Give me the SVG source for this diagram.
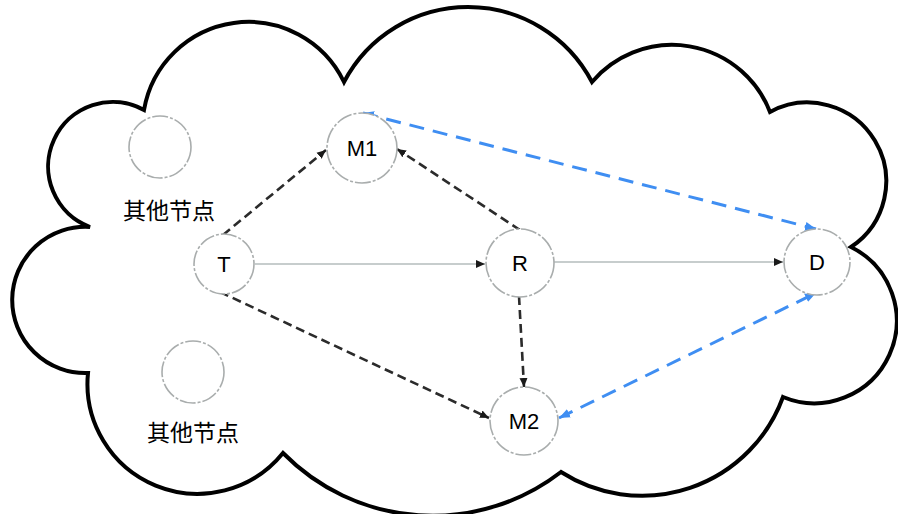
<svg xmlns="http://www.w3.org/2000/svg" width="898" height="514" viewBox="0 0 898 514">
<style>
.cloud{fill:#fff;stroke:#000;stroke-width:4;stroke-linejoin:miter}
.node{fill:#fff;stroke:#a9adad;stroke-width:1.6;stroke-dasharray:16 2 3 2}
.lbl{font-family:"Liberation Sans","Noto Sans CJK SC",sans-serif;font-size:22px;fill:#000;text-anchor:middle}
.cn{font-family:"Noto Sans CJK SC","Liberation Sans",sans-serif;font-size:23px;fill:#000;text-anchor:middle}
.dk{fill:none;stroke:#2b2b2b;stroke-width:2.6;stroke-dasharray:9 5}
.sol{fill:none;stroke:#b4bcbc;stroke-width:1.6}
.bl{fill:none;stroke:#3f8ef2;stroke-width:3;stroke-dasharray:15 9}
</style>
<defs>
<marker id="ak" markerUnits="userSpaceOnUse" markerWidth="10" markerHeight="10" refX="9" refY="5" orient="auto"><path d="M0,1 L9,5 L0,9 z" fill="#1a1a1a"/></marker>
<marker id="ab" markerUnits="userSpaceOnUse" markerWidth="12" markerHeight="12" refX="11" refY="6" orient="auto-start-reverse"><path d="M0,1.5 L11,6 L0,10.5 z" fill="#3f8ef2"/></marker>
</defs>
<path class="cloud" d="M344,82 A140,140 0 0 1 592,82 A105,105 0 0 1 770,112 A78.8,78.8 0 0 1 851,247 A82.4,82.4 0 0 1 783,397 A150,150 0 0 1 561,472 A210,210 0 0 1 283,453 A110,110 0 0 1 88,373 A73.1,73.1 0 1 1 90,227 A64.6,64.6 0 1 1 144,110 A106,106 0 0 1 344,82 Z"/>
<g id="connectors">
<line class="sol" x1="255" y1="264" x2="485" y2="264" marker-end="url(#ak)"/>
<line class="sol" x1="554" y1="262" x2="783" y2="262" marker-end="url(#ak)"/>
<line class="dk" x1="223" y1="235" x2="326" y2="150" marker-end="url(#ak)"/>
<line class="dk" x1="220" y1="292" x2="489" y2="418" marker-end="url(#ak)"/>
<line class="dk" x1="520" y1="230" x2="397" y2="149" marker-end="url(#ak)"/>
<line class="dk" x1="519" y1="296" x2="524" y2="387" marker-end="url(#ak)"/>
<line class="bl" x1="363" y1="113" x2="816" y2="229" marker-start="url(#ab)" marker-end="url(#ab)"/>
<line class="bl" x1="559" y1="418" x2="816" y2="293" marker-start="url(#ab)" marker-end="url(#ab)"/>
</g>
<g id="other1"><circle class="node" cx="160" cy="147" r="31"/><text class="cn" x="169" y="219">其他节点</text></g>
<g id="other2"><circle class="node" cx="193" cy="372" r="31"/><text class="cn" x="193" y="441">其他节点</text></g>
<g id="M1"><circle class="node" cx="362" cy="148" r="35"/><text class="lbl" x="362" y="156">M1</text></g>
<g id="T"><circle class="node" cx="224" cy="264" r="30"/><text class="lbl" x="224" y="272">T</text></g>
<g id="R"><circle class="node" cx="520" cy="263" r="34"/><text class="lbl" x="520" y="271">R</text></g>
<g id="D"><circle class="node" cx="817" cy="262" r="33"/><text class="lbl" x="817" y="270">D</text></g>
<g id="M2"><circle class="node" cx="524" cy="421" r="34"/><text class="lbl" x="524" y="429">M2</text></g>
</svg>
